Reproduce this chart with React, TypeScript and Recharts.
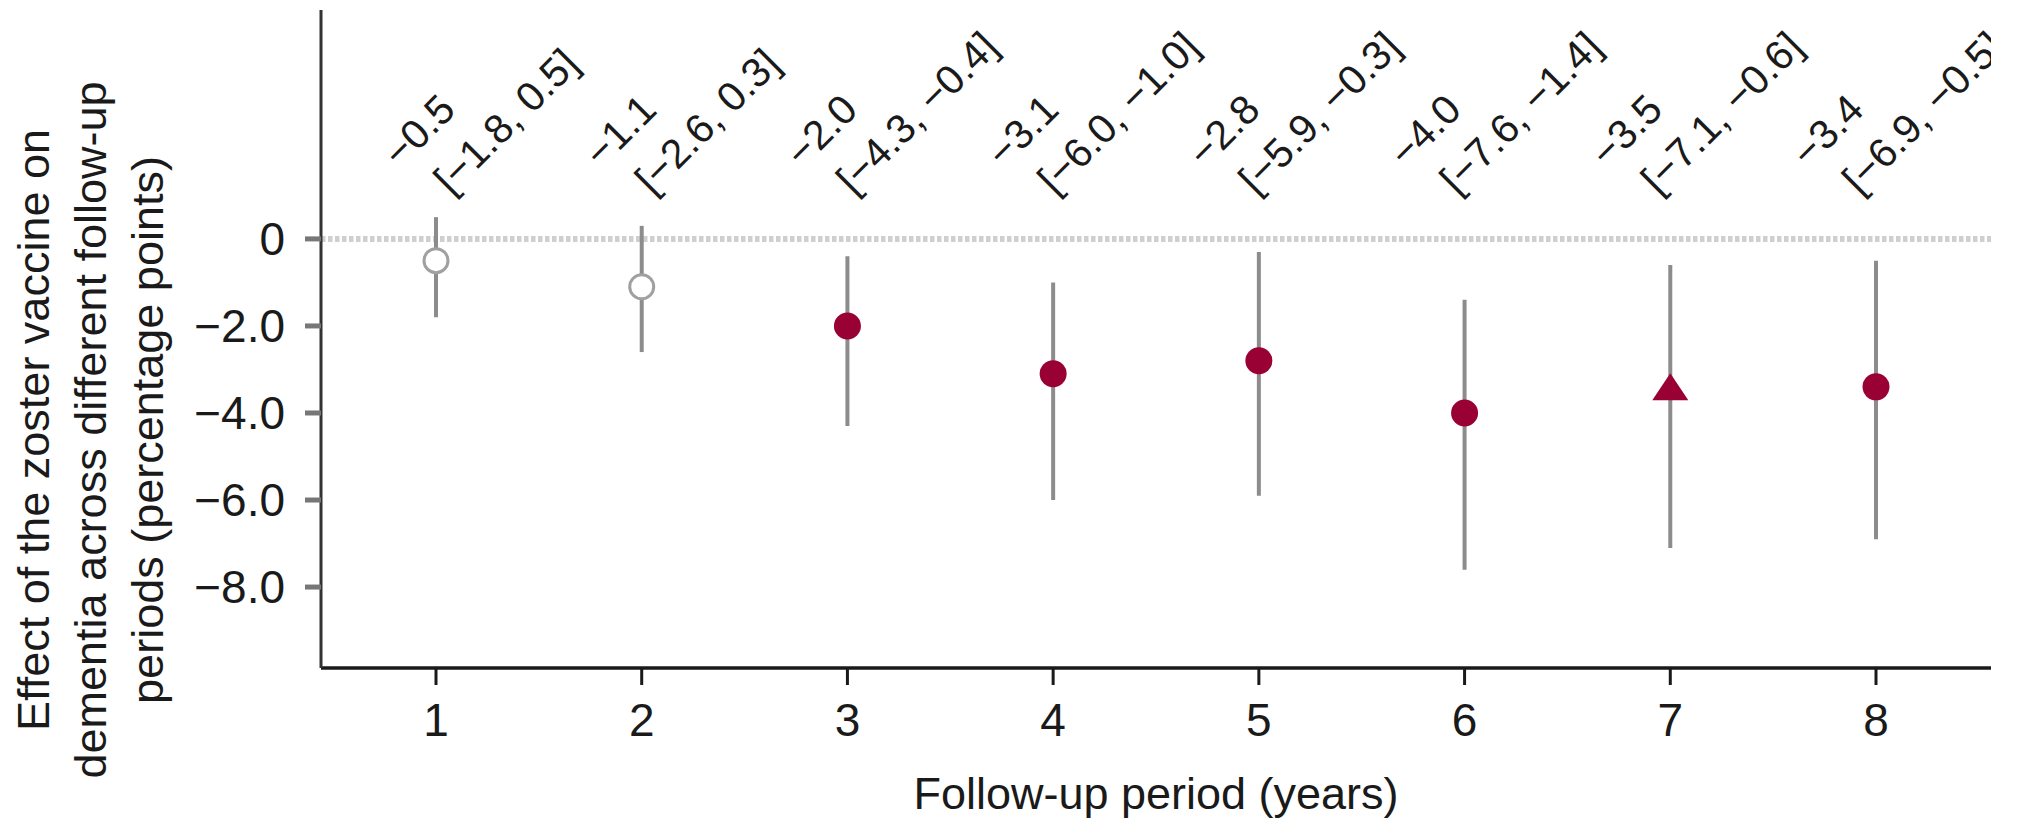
import React from "react";
import {
  ScatterChart,
  Scatter,
  XAxis,
  YAxis,
  ReferenceLine,
  ErrorBar,
} from "recharts";

// follow-up period (years)
const periods = [1, 2, 3, 4, 5, 6, 7, 8];
// effect on dementia, percentage points
const estimates = [-0.5, -1.1, -2.0, -3.1, -2.8, -4.0, -3.5, -3.4];
const ciLow = [-1.8, -2.6, -4.3, -6.0, -5.9, -7.6, -7.1, -6.9];
const ciHigh = [0.5, 0.3, -0.4, -1.0, -0.3, -1.4, -0.6, -0.5];
// marker style per period
const markerKinds = ["open", "open", "filled", "filled", "filled", "filled", "triangle", "filled"];
const yTicks = [0, -2, -4, -6, -8];

const FONT = '"Liberation Sans", Arial, Helvetica, sans-serif';
const RED = "#990033";
const LABEL_Y = 196; // baseline of the annotation block

const fmt = (v: number) =>
  v < 0 ? `\u2212${Math.abs(v).toFixed(1)}` : v.toFixed(1);

const rows = periods.map((p, i) => ({
  period: p,
  est: estimates[i],
  lo: ciLow[i],
  hi: ciHigh[i],
  err: [estimates[i] - ciLow[i], ciHigh[i] - estimates[i]],
  kind: markerKinds[i],
}));

const YTitle = () => {
  const lines = [
    "Effect of the zoster vaccine on",
    "dementia across different follow-up",
    "periods (percentage points)",
  ];
  const xs = [49, 106, 163];
  return (
    <g>
      {lines.map((t, i) => (
        <text
          key={i}
          x={xs[i]}
          y={430}
          transform={`rotate(-90, ${xs[i]}, 430)`}
          textAnchor="middle"
          fontSize={45}
          fontFamily={FONT}
          fill="#1a1a1a"
        >
          {t}
        </text>
      ))}
    </g>
  );
};

const XTitle = () => (
  <text
    x={1156}
    y={809}
    textAnchor="middle"
    fontSize={45}
    fontFamily={FONT}
    fill="#1a1a1a"
  >
    Follow-up period (years)
  </text>
);

const renderOpen = (props: any) => (
  <circle cx={props.cx} cy={props.cy} r={12} fill="#fff" stroke="#a0a0a0" strokeWidth={3} />
);

const renderFilled = (props: any) => (
  <circle cx={props.cx} cy={props.cy} r={13.5} fill={RED} />
);

const renderTriangle = (props: any) => {
  const { cx, cy } = props;
  return (
    <polygon
      points={`${cx},${cy - 18} ${cx + 18},${cy + 9} ${cx - 18},${cy + 9}`}
      fill={RED}
    />
  );
};

// estimate on top, CI underneath, both tilted; labels sit a bit tighter than the ticks
const renderLabel = (props: any) => {
  const { cx, payload } = props;
  const px = cx - 3 - 4.5 * (payload.period - 5);
  return (
    <text
      transform={`translate(${px}, ${LABEL_Y}) rotate(-45)`}
      fontSize={41}
      fontFamily={FONT}
      fill="#1a1a1a"
    >
      <tspan x={-17} y={-55}>
        {fmt(payload.est)}
      </tspan>
      <tspan x={0} y={0}>
        {`[${fmt(payload.lo)}, ${fmt(payload.hi)}]`}
      </tspan>
    </text>
  );
};

export default function App() {
  return (
    <div
      style={{
        position: "absolute",
        left: 0,
        top: 0,
        width: 2028,
        height: 821,
        background: "#fff",
        fontFamily: FONT,
      }}
    >
      <ScatterChart
        width={2028}
        height={821}
        margin={{ top: 10, right: 37, bottom: 0, left: 0 }}
      >
        <XAxis
          type="number"
          dataKey="period"
          domain={[0.441, 8.559]}
          ticks={periods}
          allowDataOverflow
          height={153}
          tickSize={17}
          tickMargin={18}
          tick={{ fontSize: 46, fill: "#1a1a1a", fontFamily: FONT }}
          tickLine={{ stroke: "#1a1a1a", strokeWidth: 3 }}
          axisLine={{ stroke: "#1a1a1a", strokeWidth: 3.5 }}
          label={<XTitle />}
        />
        <YAxis
          type="number"
          dataKey="est"
          domain={[-9.86, 5.26]}
          ticks={yTicks}
          allowDataOverflow
          width={321}
          tickSize={16}
          tickMargin={20}
          tickFormatter={(v: number) => (v === 0 ? "0" : fmt(v))}
          tick={{ fontSize: 46, fill: "#1a1a1a", fontFamily: FONT }}
          tickLine={{ stroke: "#777", strokeWidth: 5 }}
          axisLine={{ stroke: "#333", strokeWidth: 3 }}
          label={<YTitle />}
        />
        <ReferenceLine y={0} stroke="#cfcfcf" strokeWidth={6} strokeDasharray="4.5 2.5" />
        <Scatter data={rows} shape={() => <g />} isAnimationActive={false}>
          <ErrorBar
            dataKey="err"
            direction="y"
            width={0}
            stroke="#8c8c8c"
            strokeWidth={4}
            isAnimationActive={false}
          />
        </Scatter>
        <Scatter
          data={rows.filter((r) => r.kind === "open")}
          shape={renderOpen}
          isAnimationActive={false}
        />
        <Scatter
          data={rows.filter((r) => r.kind === "filled")}
          shape={renderFilled}
          isAnimationActive={false}
        />
        <Scatter
          data={rows.filter((r) => r.kind === "triangle")}
          shape={renderTriangle}
          isAnimationActive={false}
        />
        <Scatter data={rows} shape={renderLabel} isAnimationActive={false} />
      </ScatterChart>
    </div>
  );
}
